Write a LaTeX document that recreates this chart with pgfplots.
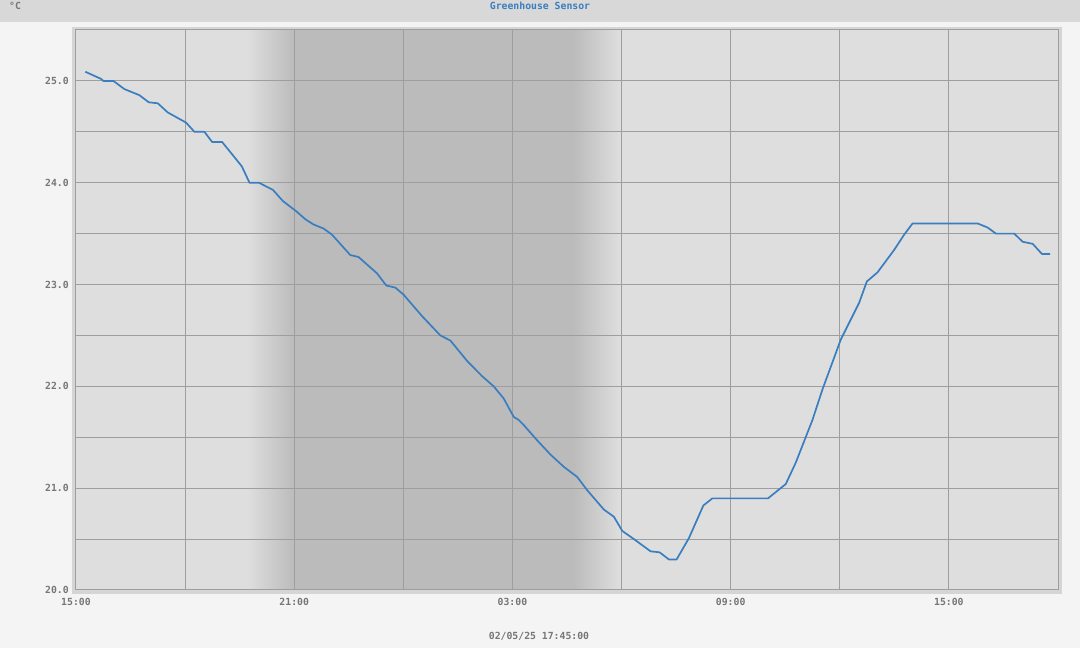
\documentclass[border=0pt]{standalone}
\usepackage{pgfplots}
\pgfplotsset{compat=1.18}
\usepackage{fontspec}
\setmainfont{DejaVu Sans Mono}[BoldFont={DejaVu Sans Mono Bold}]
\definecolor{pagebg}{HTML}{F4F4F4}
\definecolor{topbar}{HTML}{D8D8D8}
\definecolor{border}{HTML}{D5D5D5}
\definecolor{plotbg}{HTML}{DEDEDE}
\definecolor{night}{HTML}{BBBBBB}
\definecolor{gridc}{HTML}{9E9E9E}
\definecolor{linec}{HTML}{3A7EBF}
\definecolor{labc}{HTML}{767676}
\begin{document}
\begin{tikzpicture}
\fill[pagebg] (0pt,0pt) rectangle (1080pt,648pt);
\fill[topbar] (0pt,626pt) rectangle (1080pt,648pt);
\fill[border] (72pt,54pt) rectangle (1062pt,621pt);
\fill[plotbg] (76pt,58pt) rectangle (1058pt,618pt);
\shade[left color=plotbg, right color=night] (248pt,58pt) rectangle (294.5pt,618pt);
\fill[night] (294pt,58pt) rectangle (573.5pt,618pt);
\shade[left color=night, right color=plotbg] (573pt,58pt) rectangle (620pt,618pt);
\node[anchor=west,inner sep=0pt,text=labc,font=\fontsize{9.8}{10}\selectfont\bfseries] at (9pt,642pt) {°C};
\node[inner sep=0pt,text=linec,font=\fontsize{9.8}{10}\selectfont\bfseries] at (540pt,642pt) {Greenhouse Sensor};
\node[inner sep=0pt,text=labc,font=\fontsize{9.8}{10}\selectfont\bfseries] at (539pt,12pt) {02/05/25 17:45:00};
\begin{axis}[
  at={(76pt,58pt)}, anchor=south west,
  scale only axis, width=982pt, height=560pt,
  xmin=0, xmax=27, ymin=20, ymax=25.5,
  xtick={0,3,...,27},
  xticklabels={15:00,,21:00,,03:00,,09:00,,15:00,},
  ytick={20,20.5,...,25.5},
  yticklabels={20.0,,21.0,,22.0,,23.0,,24.0,,25.0,},
  grid=major,
  major grid style={gridc, line width=1pt},
  axis line style={gridc, line width=1pt},
  major tick length=0pt,
  tick label style={text=labc, font=\fontsize{9.8}{10}\selectfont\bfseries, inner sep=0pt},
  yticklabel style={anchor=east, xshift=-7pt},
  xticklabel style={anchor=north, yshift=-8pt},
]
\addplot[linec, line width=1.7pt, line join=round] coordinates {
(0.256,25.09) (0.688,25.02) (0.751,25.0) (1.027,25.0) (1.329,24.92) (1.742,24.86)
(2.001,24.79) (2.249,24.78) (2.524,24.69) (3.028,24.59) (3.256,24.50) (3.531,24.50)
(3.743,24.40) (4.018,24.40) (4.313,24.27) (4.561,24.16) (4.770,24.0) (5.029,24.0)
(5.414,23.93) (5.689,23.82) (6.055,23.72) (6.311,23.64) (6.531,23.59) (6.807,23.55)
(7.038,23.49) (7.541,23.29) (7.770,23.27) (8.276,23.11) (8.532,22.99) (8.780,22.97)
(9.008,22.90) (9.515,22.69) (10.018,22.50) (10.294,22.45) (10.753,22.25) (11.166,22.10)
(11.485,22.00) (11.761,21.88) (12.036,21.70) (12.173,21.67) (12.311,21.62) (12.680,21.47)
(13.046,21.33) (13.412,21.21) (13.781,21.11) (14.056,20.98) (14.513,20.79) (14.788,20.72)
(15.020,20.58) (15.339,20.50) (15.798,20.38) (16.046,20.37) (16.302,20.3) (16.514,20.3)
(16.853,20.51) (17.249,20.83) (17.497,20.9) (19.027,20.9) (19.514,21.04) (19.789,21.25)
(20.249,21.67) (20.524,21.97) (21.028,22.46) (21.532,22.82) (21.744,23.03) (22.038,23.12)
(22.495,23.34) (22.770,23.49) (23.001,23.6) (24.790,23.6) (25.065,23.56) (25.294,23.5)
(25.797,23.5) (26.028,23.42) (26.303,23.40) (26.560,23.3) (26.78,23.3)
};
\end{axis}
\end{tikzpicture}
\end{document}
